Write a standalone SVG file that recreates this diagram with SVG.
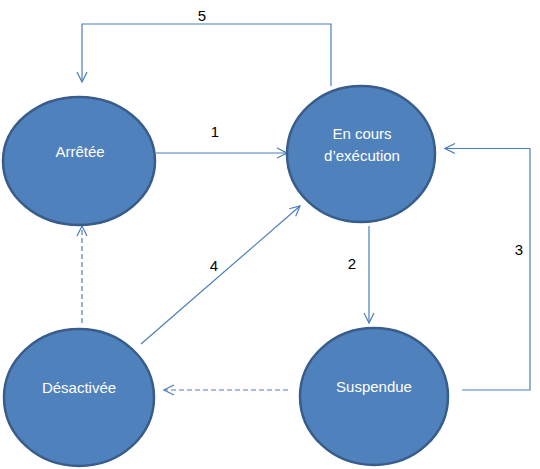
<svg xmlns="http://www.w3.org/2000/svg" width="540" height="469" viewBox="0 0 540 469">
<style>
.node ellipse{fill:#4f81bd;stroke:#385d8a;stroke-width:2.5}
.node text{fill:#ffffff;font-family:"Liberation Sans",Arial,sans-serif;font-size:15px;text-anchor:middle}
.edge{fill:none;stroke:#4a7ebb;stroke-width:1.2}
.dash{stroke-dasharray:5 3}
.lbl{fill:#000000;font-family:"Liberation Sans",Arial,sans-serif;font-size:15px;text-anchor:middle}
</style>
<defs>
<marker id="arr" viewBox="0 0 12 12" refX="11" refY="6" markerWidth="12" markerHeight="12" markerUnits="userSpaceOnUse" orient="auto">
<path d="M1,1 L11,6 L1,11" fill="none" stroke="#4a7ebb" stroke-width="1.2"/>
</marker>
</defs>
<rect width="540" height="469" fill="#ffffff"/>
<g id="connectors">
<polyline class="edge" points="331,86 331,24 82,24 82,82" marker-end="url(#arr)"/>
<line class="edge" x1="156" y1="153" x2="287" y2="153" marker-end="url(#arr)"/>
<polyline class="edge" points="462,390 530,390 530,148.5 445,148.5" marker-end="url(#arr)"/>
<line class="edge" x1="369" y1="226" x2="369" y2="323" marker-end="url(#arr)"/>
<line class="edge" x1="141" y1="344" x2="300" y2="206" marker-end="url(#arr)"/>
<line class="edge dash" x1="82" y1="323" x2="82" y2="226" marker-end="url(#arr)"/>
<line class="edge dash" x1="288" y1="390" x2="164" y2="390" marker-end="url(#arr)"/>
<text class="lbl" x="202" y="21">5</text>
<text class="lbl" x="215" y="137">1</text>
<text class="lbl" x="519" y="255">3</text>
<text class="lbl" x="352" y="269">2</text>
<text class="lbl" x="214" y="271">4</text>
</g>
<g id="arretee" class="node">
<ellipse cx="79" cy="161" rx="76" ry="64"/>
<text x="80" y="157">Arrêtée</text>
</g>
<g id="encours" class="node">
<ellipse cx="361" cy="154" rx="74" ry="68"/>
<text x="362" y="139">En cours</text>
<text x="362" y="161">d’exécution</text>
</g>
<g id="desactivee" class="node">
<ellipse cx="79" cy="397.5" rx="75" ry="68.5"/>
<text x="79" y="393">Désactivée</text>
</g>
<g id="suspendue" class="node">
<ellipse cx="374" cy="396.5" rx="74" ry="68.5"/>
<text x="374" y="392">Suspendue</text>
</g>
</svg>
